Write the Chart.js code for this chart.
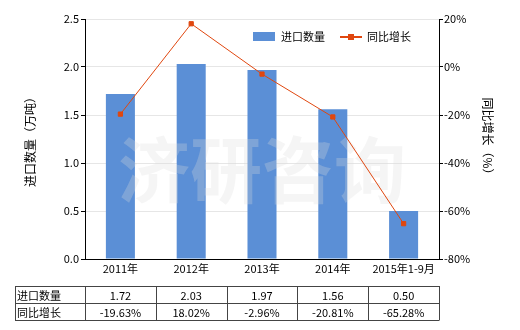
<!DOCTYPE html>
<html>
<head>
<meta charset="utf-8">
<script src="https://cdn.jsdelivr.net/npm/chart.js@4.4.0/dist/chart.umd.min.js"></script>
<style>
  html, body { margin: 0; padding: 0; background: #fff; }
  canvas { display: block; }
</style>
</head>
<body>
<canvas id="chart" width="520" height="330"></canvas>
<script>
const categories = ['2011年', '2012年', '2013年', '2014年', '2015年1-9月'];
const importQty = [1.72, 2.03, 1.97, 1.56, 0.50];
const yoyGrowth = [-19.63, 18.02, -2.96, -20.81, -65.28];
const qtyLabel = '进口数量';
const growthLabel = '同比增长';

const FONT = "'Noto Sans CJK SC', 'DejaVu Sans', sans-serif";
const BAR_COLOR = '#5b8fd6';
const LINE_COLOR = '#e0470f';

// watermark, legend, axis titles and the data table under the chart
const extras = {
    id: 'extras',
    afterDatasetDraw(chart, args) {
        if (args.meta.type !== 'bar') return;
        const ctx = chart.ctx;
        ctx.save();
        ctx.font = 'bold 72px ' + FONT;
        ctx.fillStyle = 'rgba(220,220,220,0.28)';
        ctx.textAlign = 'center';
        ctx.textBaseline = 'middle';
        ctx.fillText('济研咨询', 262, 170);
        ctx.restore();
    },
    afterDraw(chart) {
        const ctx = chart.ctx;
        const x = chart.scales.x;
        const area = chart.chartArea;
        ctx.save();
        ctx.font = '11px ' + FONT;
        ctx.fillStyle = '#000';
        ctx.textBaseline = 'middle';

        // legend
        ctx.fillStyle = BAR_COLOR;
        ctx.fillRect(253, 32, 22, 9);
        ctx.fillStyle = '#000';
        ctx.fillText(qtyLabel, 281, 37);
        ctx.strokeStyle = LINE_COLOR;
        ctx.lineWidth = 2;
        ctx.beginPath(); ctx.moveTo(340, 37); ctx.lineTo(362, 37); ctx.stroke();
        ctx.fillStyle = LINE_COLOR;
        ctx.fillRect(348, 34, 6, 6);
        ctx.fillStyle = '#000';
        ctx.fillText(growthLabel, 367, 37);

        // axis titles
        ctx.font = '12px ' + FONT;
        ctx.textAlign = 'center';
        ctx.save();
        ctx.translate(30, 139);
        ctx.rotate(-Math.PI / 2);
        ctx.fillText('进口数量（万吨）', 0, 0);
        ctx.restore();
        ctx.save();
        ctx.translate(488, 139);
        ctx.rotate(Math.PI / 2);
        ctx.fillText('同比增长（%）', 0, 0);
        ctx.restore();

        // data table
        const top = 286, rowH = 17, left = 15;
        const colW = (area.right - area.left) / categories.length;
        ctx.strokeStyle = '#444';
        ctx.lineWidth = 1;
        ctx.beginPath();
        for (let r = 0; r <= 2; r++) {
            ctx.moveTo(left, top + r * rowH + 0.5);
            ctx.lineTo(area.right + 0.5, top + r * rowH + 0.5);
        }
        ctx.moveTo(left + 0.5, top); ctx.lineTo(left + 0.5, top + 2 * rowH);
        for (let c = 0; c <= categories.length; c++) {
            const cx = Math.round(area.left + c * colW) + 0.5;
            ctx.moveTo(cx, top); ctx.lineTo(cx, top + 2 * rowH);
        }
        ctx.stroke();

        ctx.font = '11px ' + FONT;
        ctx.textAlign = 'left';
        ctx.fillText(qtyLabel, left + 2, top + rowH / 2 + 1);
        ctx.fillText(growthLabel, left + 2, top + rowH * 1.5 + 1);
        ctx.textAlign = 'center';
        categories.forEach((c, i) => {
            const cx = x.getPixelForValue(i);
            ctx.fillText(importQty[i].toFixed(2), cx, top + rowH / 2 + 1);
            ctx.fillText(yoyGrowth[i].toFixed(2) + '%', cx, top + rowH * 1.5 + 1);
        });
        ctx.restore();
    }
};

const ctx = document.getElementById('chart').getContext('2d');

new Chart(ctx, {
    type: 'bar',
    data: {
        labels: categories,
        datasets: [{
            type: 'line',
            label: growthLabel,
            data: yoyGrowth,
            yAxisID: 'y1',
            borderColor: LINE_COLOR,
            backgroundColor: LINE_COLOR,
            borderWidth: 1,
            pointStyle: 'rect',
            pointRadius: 3,
            order: 0
        }, {
            label: qtyLabel,
            data: importQty,
            yAxisID: 'y',
            backgroundColor: BAR_COLOR,
            barPercentage: 0.41,
            categoryPercentage: 1,
            order: 1
        }]
    },
    options: {
        responsive: false,
        animation: false,
        layout: { padding: { left: 0, right: 0, top: 19, bottom: 45 } },
        plugins: {
            legend: { display: false },
            tooltip: { enabled: false }
        },
        scales: {
            x: {
                grid: { display: false, drawTicks: false },
                border: { display: true, color: '#000' },
                ticks: { color: '#000', font: { family: FONT, size: 11 }, padding: 3, maxRotation: 0 },
                afterFit(s) { s.height = 26; }
            },
            y: {
                position: 'left',
                min: 0,
                max: 2.5,
                ticks: {
                    stepSize: 0.5,
                    color: '#000',
                    font: { family: FONT, size: 11 },
                    padding: 2,
                    callback: v => v.toFixed(1)
                },
                grid: { color: '#e6e6e6', tickColor: '#000', tickLength: 4 },
                border: { display: true, color: '#000' },
                afterFit(s) { s.width = 85; }
            },
            y1: {
                position: 'right',
                min: -80,
                max: 20,
                ticks: {
                    stepSize: 20,
                    color: '#000',
                    font: { family: FONT, size: 11 },
                    padding: 1,
                    callback: v => v + '%'
                },
                grid: { drawOnChartArea: false, tickColor: '#000', tickLength: 4 },
                border: { display: true, color: '#000' },
                afterFit(s) { s.width = 81; }
            }
        }
    },
    plugins: [extras]
});
</script>
</body>
</html>
